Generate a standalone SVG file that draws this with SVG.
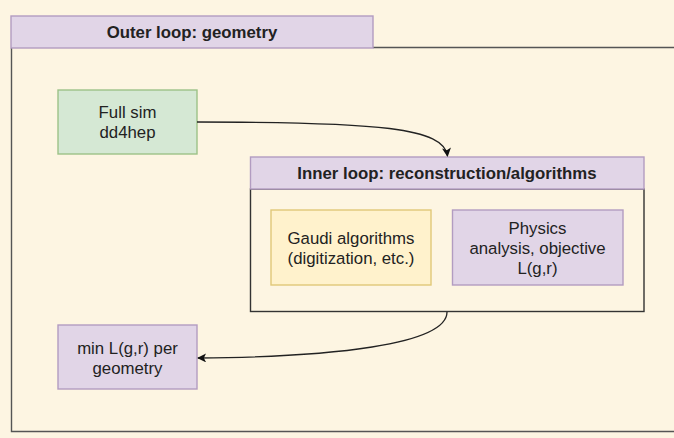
<svg xmlns="http://www.w3.org/2000/svg" width="674" height="438" viewBox="0 0 674 438">
<defs>
<style>
.t{font-family:"Liberation Sans",Arial,sans-serif;font-size:16.8px;fill:#222;text-anchor:middle;dominant-baseline:central}
.b{font-weight:bold}
.purple{fill:#e1d5e7;stroke:#b29cc1;stroke-width:1.4}
.green{fill:#d5e8d4;stroke:#9cc288;stroke-width:1.4}
.yellow{fill:#fff2cc;stroke:#e0c878;stroke-width:1.4}
.conn{fill:none;stroke:#222;stroke-width:1.3}
</style>
<marker id="arr" viewBox="0 0 10 10" refX="9" refY="5" markerWidth="9" markerHeight="9" markerUnits="userSpaceOnUse" orient="auto">
<path d="M0,0 L10,5 L0,10 L2.5,5 Z" fill="#111"/>
</marker>
</defs>
<rect x="0" y="0" width="674" height="438" fill="#fdf5e2"/>
<g id="outer-loop">
<path d="M11.5,48 V431.5 H674" fill="none" stroke="#555" stroke-width="1.4"/>
<path d="M373,47.5 H674" fill="none" stroke="#555" stroke-width="1.4"/>
<rect class="purple" x="11" y="16" width="362" height="32"/>
<text class="t b" x="192" y="32">Outer loop: geometry</text>
</g>
<g id="full-sim">
<rect class="green" x="58" y="90" width="139" height="64"/>
<text class="t" x="127.5" y="112">Full sim</text>
<text class="t" x="127.5" y="132">dd4hep</text>
</g>
<g id="inner-loop">
<rect x="250.5" y="189" width="393.5" height="122.5" fill="#fdf5e2" stroke="#333" stroke-width="1.4"/>
<rect class="purple" x="250.5" y="157" width="393.5" height="32"/>
<text class="t b" x="447" y="173">Inner loop: reconstruction/algorithms</text>
</g>
<g id="gaudi">
<rect class="yellow" x="271" y="210" width="160" height="75"/>
<text class="t" x="351" y="238">Gaudi algorithms</text>
<text class="t" x="351" y="258">(digitization, etc.)</text>
</g>
<g id="physics">
<rect class="purple" x="452.5" y="210" width="170.5" height="75"/>
<text class="t" x="537.5" y="228">Physics</text>
<text class="t" x="537.5" y="248">analysis, objective</text>
<text class="t" x="537.5" y="268">L(g,r)</text>
</g>
<g id="min-l">
<rect class="purple" x="58" y="325" width="139" height="64"/>
<text class="t" x="127.5" y="348">min L(g,r) per</text>
<text class="t" x="127.5" y="368">geometry</text>
</g>
<g id="connectors">
<path class="conn" d="M197,122 C380,122 444,128 447.5,156" marker-end="url(#arr)"/>
<path class="conn" d="M447,312 C447,345 330,357 198,358" marker-end="url(#arr)"/>
</g>
</svg>
